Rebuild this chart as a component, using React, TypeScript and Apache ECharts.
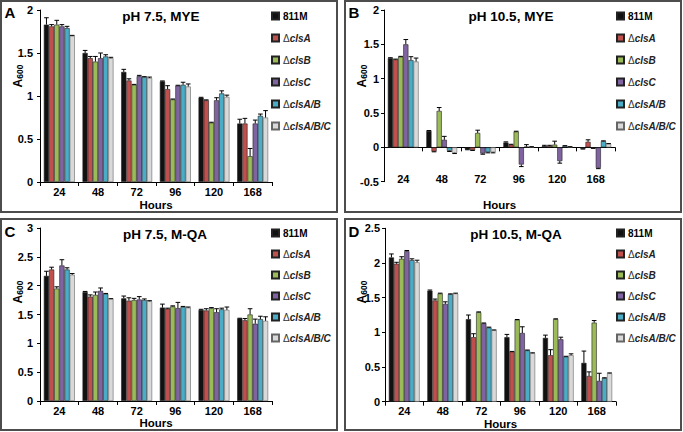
import React, { useEffect, useRef } from "react";
import * as echarts from "echarts";

const categories = ["24", "48", "72", "96", "120", "168"];
const seriesNames = ["811M", "ΔclsA", "ΔclsB", "ΔclsC", "ΔclsA/B", "ΔclsA/B/C"];
const colors = ["#111111", "#c0504d", "#9bbb59", "#8064a2", "#4bacc6", "#d9d9d9"];

// Panel A: pH 7.5, MYE (one row per strain, columns = hours)
const aValues = [
  [1.83, 1.5, 1.28, 1.17, 0.98, 0.68],
  [1.81, 1.44, 1.18, 1.08, 0.95, 0.68],
  [1.83, 1.4, 1.13, 0.96, 0.69, 0.3],
  [1.81, 1.44, 1.23, 1.12, 0.95, 0.68],
  [1.79, 1.46, 1.22, 1.13, 1.03, 0.77],
  [1.7, 1.44, 1.21, 1.11, 0.99, 0.75],
];
const aErrors = [
  [0.08, 0.03, 0.03, 0.005, 0.005, 0.05],
  [0.02, 0.02, 0.02, 0.04, 0.005, 0.06],
  [0.05, 0.06, 0.005, 0.005, 0.005, 0.09],
  [0.02, 0.06, 0.01, 0.005, 0.03, 0.04],
  [0.02, 0.02, 0.005, 0.03, 0.03, 0.02],
  [0.005, 0.01, 0.01, 0.03, 0.02, 0.08],
];

// Panel B: pH 10.5, MYE
const bValues = [
  [1.3, 0.24, -0.03, 0.07, 0.02, -0.02],
  [1.28, -0.06, -0.04, 0.04, 0.02, 0.08],
  [1.32, 0.53, 0.21, 0.23, 0.04, -0.01],
  [1.5, 0.11, -0.09, -0.25, -0.2, -0.3],
  [1.27, -0.05, -0.07, 0.01, 0.02, 0.09],
  [1.25, -0.08, -0.07, 0.005, 0.005, 0.05],
];
const bErrors = [
  [0.005, 0.005, 0.005, 0.01, 0.01, 0.005],
  [0.005, 0.005, 0.005, 0.005, 0.01, 0.03],
  [0.005, 0.05, 0.04, 0.005, 0.05, 0.005],
  [0.07, 0.05, 0.01, 0.03, 0.03, 0.01],
  [0.05, 0.01, 0.01, 0.03, 0.005, 0.005],
  [0.05, 0.01, 0.01, 0.005, 0.005, 0.005],
];

// Panel C: pH 7.5, M-QA
const cValues = [
  [2.17, 1.89, 1.78, 1.62, 1.58, 1.43],
  [2.28, 1.81, 1.74, 1.6, 1.57, 1.4],
  [1.95, 1.84, 1.75, 1.64, 1.61, 1.5],
  [2.35, 1.91, 1.76, 1.61, 1.54, 1.34],
  [2.28, 1.86, 1.75, 1.63, 1.59, 1.42],
  [2.19, 1.77, 1.73, 1.62, 1.58, 1.39],
];
const cErrors = [
  [0.08, 0.01, 0.04, 0.06, 0.01, 0.005],
  [0.04, 0.03, 0.05, 0.01, 0.03, 0.03],
  [0.03, 0.05, 0.03, 0.01, 0.01, 0.1],
  [0.1, 0.05, 0.05, 0.1, 0.06, 0.08],
  [0.03, 0.005, 0.02, 0.01, 0.02, 0.05],
  [0.02, 0.005, 0.01, 0.01, 0.05, 0.07],
];

// Panel D: pH 10.5, M-QA
const dValues = [
  [2.08, 1.6, 1.19, 0.93, 0.92, 0.56],
  [1.99, 1.46, 0.93, 0.72, 0.67, 0.37],
  [2.06, 1.56, 1.29, 1.18, 1.19, 1.14],
  [2.17, 1.41, 1.13, 0.99, 0.9, 0.3],
  [2.04, 1.55, 1.07, 0.74, 0.65, 0.34],
  [2.01, 1.56, 1.03, 0.7, 0.67, 0.41],
];
const dErrors = [
  [0.05, 0.01, 0.06, 0.04, 0.04, 0.17],
  [0.02, 0.02, 0.05, 0.005, 0.08, 0.06],
  [0.03, 0.005, 0.005, 0.005, 0.005, 0.03],
  [0.01, 0.03, 0.005, 0.09, 0.03, 0.11],
  [0.02, 0.005, 0.005, 0.005, 0.005, 0.005],
  [0.03, 0.005, 0.005, 0.005, 0.02, 0.005],
];

const titles = ["pH 7.5, MYE", "pH 10.5, MYE", "pH 7.5, M-QA", "pH 10.5, M-QA"];
const letters = ["A", "B", "C", "D"];

const FONT = "'Liberation Sans', Arial, sans-serif";
const CAT_GAP = 0.2;

function buildOption() {
  const panels = [
    { values: aValues, errors: aErrors, min: 0, max: 2, grid: { left: 40, top: 10, width: 232, height: 172 }, xIdx: 0, labelMargin: 4, nameGap: 17, yMargin: 7, px: 0, py: 0, yNameX: 17, yNameY: 76, titleX: 161, titleY: 16, legendLeft: 271, legendTop: 10, legendGap: 10 },
    { values: bValues, errors: bErrors, min: -0.5, max: 2, grid: { left: 384, top: 10, width: 231, height: 171.7 }, xIdx: 1, labelMargin: -8, nameGap: 17, yMargin: 5, px: 344, py: 0, yNameX: 361, yNameY: 76, titleX: 511, titleY: 16, legendLeft: 616, legendTop: 10, legendGap: 10 },
    { values: cValues, errors: cErrors, min: 0, max: 3, grid: { left: 40, top: 228, width: 232, height: 173 }, xIdx: 3, labelMargin: 4, nameGap: 12.5, yMargin: 7, px: 0, py: 218, yNameX: 17, yNameY: 292, titleX: 165, titleY: 234, legendLeft: 271, legendTop: 227, legendGap: 9 },
    { values: dValues, errors: dErrors, min: 0, max: 2.5, grid: { left: 385, top: 228.3, width: 231, height: 173.4 }, xIdx: 4, labelMargin: 4, nameGap: 12.5, yMargin: 5, px: 344, py: 218, yNameX: 361, yNameY: 292, titleX: 516, titleY: 234, legendLeft: 616, legendTop: 227, legendGap: 9 },
  ];

  const grid: any[] = [];
  const xAxis: any[] = [];
  const yAxis: any[] = [];
  const series: any[] = [];
  const legend: any[] = [];
  const graphic: any[] = [];

  const baseX = (gridIndex: number, extra: any) => ({
    type: "category",
    gridIndex,
    data: categories,
    boundaryGap: true,
    axisLine: { show: true, onZero: false, lineStyle: { color: "#000", width: 1 } },
    axisTick: { show: true, alignWithLabel: false, length: 4, lineStyle: { color: "#000" } },
    axisLabel: { color: "#000", fontWeight: "bold", fontSize: 11, fontFamily: FONT, margin: 4 },
    name: "Hours",
    nameLocation: "middle",
    nameTextStyle: { color: "#000", fontWeight: "bold", fontSize: 11.5, fontFamily: FONT },
    splitLine: { show: false },
    ...extra,
  });

  panels.forEach((p, gi) => {
    grid.push({ ...p.grid, containLabel: false });
    if (gi === 1) {
      xAxis.push(
        baseX(gi, {
          position: "bottom",
          axisLine: { show: false, onZero: false },
          axisTick: { show: false },
          axisLabel: { color: "#000", fontWeight: "bold", fontSize: 11, fontFamily: FONT, margin: p.labelMargin },
          nameGap: p.nameGap,
        })
      );
      xAxis.push(
        baseX(gi, {
          position: "top",
          name: "",
          axisLine: { show: true, onZero: true, lineStyle: { color: "#000", width: 1 } },
          axisTick: { show: true, inside: true, alignWithLabel: false, length: 4, lineStyle: { color: "#000" } },
          axisLabel: { show: false },
        })
      );
    } else {
      xAxis.push(baseX(gi, { position: "bottom", nameGap: p.nameGap }));
    }
    yAxis.push({
      type: "value",
      gridIndex: gi,
      min: p.min,
      max: p.max,
      interval: 0.5,
      axisLine: { show: true, onZero: false, lineStyle: { color: "#000", width: 1 } },
      axisTick: { show: true, length: 3, lineStyle: { color: "#000" } },
      axisLabel: { color: "#000", fontWeight: "bold", fontSize: 11, fontFamily: FONT, margin: p.yMargin },
      splitLine: { show: false },
    });

    seriesNames.forEach((name, si) => {
      series.push({
        type: "bar",
        name,
        xAxisIndex: p.xIdx,
        yAxisIndex: gi,
        data: p.values[si],
        barGap: "0%",
        barCategoryGap: CAT_GAP * 100 + "%",
        itemStyle: { color: colors[si], borderColor: si === 5 ? "#666" : "#222", borderWidth: 0.6 },
        emphasis: { disabled: true },
      });
    });

    const errData: any[] = [];
    p.values.forEach((row, si) => {
      row.forEach((v, ci) => {
        errData.push([ci, si, v, p.errors[si][ci]]);
      });
    });
    series.push({
      type: "custom",
      name: "err" + gi,
      xAxisIndex: p.xIdx,
      yAxisIndex: gi,
      z: 5,
      encode: { x: 0, y: 2 },
      data: errData,
      renderItem: (params: any, api: any) => {
        const cat = api.value(0);
        const s = api.value(1);
        const v = api.value(2);
        const e = api.value(3);
        if (!e) return null;
        const band = api.size([1, 0])[0];
        const total = band * (1 - CAT_GAP);
        const w = total / 6;
        const base = api.coord([cat, v]);
        const cx = base[0] - total / 2 + w * (s + 0.5);
        const y0 = base[1];
        const y1 = api.coord([cat, v >= 0 ? v + e : v - e])[1];
        const hw = w * 0.45;
        return {
          type: "group",
          children: [
            { type: "line", shape: { x1: cx, y1: y0, x2: cx, y2: y1 }, style: { stroke: "#000", lineWidth: 1 } },
            { type: "line", shape: { x1: cx - hw, y1: y1, x2: cx + hw, y2: y1 }, style: { stroke: "#000", lineWidth: 1 } },
          ],
        };
      },
    });

    legend.push({
      data: seriesNames,
      orient: "vertical",
      left: p.legendLeft,
      top: p.legendTop,
      padding: 0,
      itemGap: p.legendGap,
      itemWidth: 7,
      itemHeight: 7,
      icon: "rect",
      selectedMode: false,
      formatter: (n: string) => (n.startsWith("Δ") ? "{d|Δ}{i|" + n.slice(1) + "}" : "{b|" + n + "}"),
      textStyle: {
        fontFamily: FONT,
        fontSize: 10,
        lineHeight: 12,
        color: "#000",
        padding: [0, 0, 0, -1],
        rich: {
          b: { fontFamily: FONT, fontSize: 10, fontWeight: "bold", color: "#000" },
          d: { fontFamily: FONT, fontSize: 10, color: "#333" },
          i: { fontFamily: FONT, fontSize: 10, fontWeight: "bold", fontStyle: "italic", color: "#222" },
        },
      },
    });

    graphic.push({
      type: "rect",
      shape: { x: p.px + 1, y: p.py + 1, width: 336, height: 211 },
      style: { fill: "none", stroke: "#4d4d4d", lineWidth: 2 },
      z: 100,
    });
    graphic.push({
      type: "text",
      x: p.px + 10,
      y: p.py + (gi < 2 ? 12 : 13),
      style: { text: letters[gi], font: "bold 15px " + FONT, fill: "#000", align: "center", verticalAlign: "middle" },
    });
    graphic.push({
      type: "text",
      x: p.titleX,
      y: p.titleY,
      style: { text: titles[gi], font: "bold 13.5px " + FONT, fill: "#000", align: "center", verticalAlign: "middle" },
    });
    graphic.push({
      type: "text",
      x: p.yNameX,
      y: p.yNameY,
      rotation: Math.PI / 2,
      style: {
        text: "{a|A}{s|600}",
        align: "center",
        verticalAlign: "middle",
        rich: {
          a: { fontFamily: FONT, fontSize: 12, fontWeight: "bold", fill: "#000", verticalAlign: "bottom" },
          s: { fontFamily: FONT, fontSize: 8.5, fontWeight: "bold", fill: "#000", verticalAlign: "bottom", padding: [5, 0, 0, 0] },
        },
      },
    });
  });

  return {
    animation: false,
    backgroundColor: "#fff",
    grid,
    xAxis,
    yAxis,
    legend,
    series,
    graphic,
  };
}

export default function App() {
  const ref = useRef<HTMLDivElement>(null);
  useEffect(() => {
    if (!ref.current) return;
    const chart = echarts.init(ref.current, undefined, { renderer: "svg" });
    chart.setOption(buildOption() as any);
    return () => chart.dispose();
  }, []);
  return (
    <div
      ref={ref}
      style={{ position: "absolute", left: 0, top: 0, width: 683, height: 432, background: "#fff" }}
    />
  );
}
